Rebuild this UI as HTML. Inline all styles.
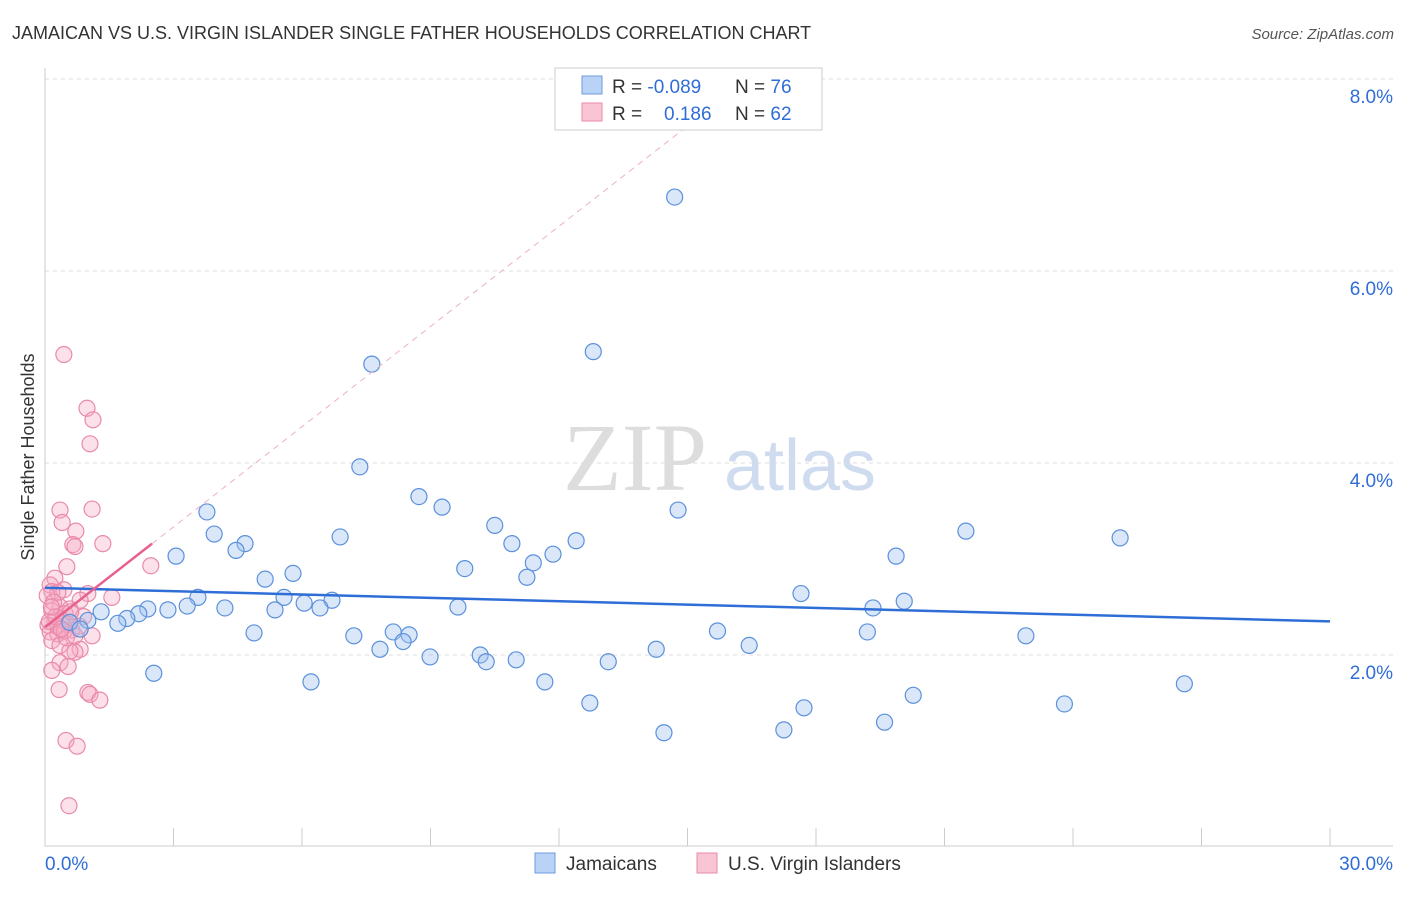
<!DOCTYPE html>
<html><head><meta charset="utf-8"><style>
body{margin:0;background:#fff;font-family:"Liberation Sans",sans-serif}
svg text{font-family:"Liberation Sans",sans-serif}
</style></head><body>
<svg id="c" width="1406" height="892" xmlns="http://www.w3.org/2000/svg">
<text x="12" y="39" font-size="18" fill="#333">JAMAICAN VS U.S. VIRGIN ISLANDER SINGLE FATHER HOUSEHOLDS CORRELATION CHART</text>
<text x="1394" y="39" font-size="15" fill="#555" font-style="italic" text-anchor="end">Source: ZipAtlas.com</text>
<g>
<text x="635" y="490" font-size="96" fill="#ddd" text-anchor="middle" font-family="Liberation Serif" style="font-family:'Liberation Serif',serif">ZIP</text>
<text x="800" y="490" font-size="72" fill="#cfdcf0" text-anchor="middle">atlas</text>
</g>
<g id="grid"></g><g id="axes"></g><g id="pts"></g><g id="trend"></g>
<text transform="translate(34,457) rotate(-90)" font-size="18" fill="#333" text-anchor="middle">Single Father Households</text>
<g>
<rect x="555" y="68" width="267" height="62" fill="#fff" stroke="#ccc"/>
<rect x="582" y="76" width="20" height="18" fill="#b9d3f7" stroke="#6c9be0"/>
<rect x="582" y="103" width="20" height="18" fill="#f9c5d5" stroke="#e88aa8"/>
<text x="612" y="93" font-size="19" fill="#333">R = <tspan fill="#2f6ed6">-0.089</tspan></text>
<text x="735" y="93" font-size="19" fill="#333">N = <tspan fill="#2f6ed6">76</tspan></text>
<text x="612" y="120" font-size="19" fill="#333">R = <tspan fill="#2f6ed6" x="664">0.186</tspan></text>
<text x="735" y="120" font-size="19" fill="#333">N = <tspan fill="#2f6ed6">62</tspan></text>
</g>
<g>
<rect x="535" y="853" width="20" height="20" fill="#b9d3f7" stroke="#6c9be0"/>
<text x="566" y="870" font-size="19" fill="#333">Jamaicans</text>
<rect x="697" y="853" width="20" height="20" fill="#f9c5d5" stroke="#e88aa8"/>
<text x="728" y="870" font-size="19" fill="#333">U.S. Virgin Islanders</text>
</g>
</svg>
<script>
const yTicks=[2,4,6,8];
const xTickLabels=["0.0%","30.0%"];
const blueX=[14.7,12.8,7.63,7.35,8.73,9.27,3.78,14.78,10.5,21.5,25.1,3.95,6.89,12.4,10.9,4.67,4.46,3.06,11.86,19.87,11.4,9.8,5.79,5.14,11.25,17.65,3.57,5.58,20.06,6.7,6.05,19.33,9.64,3.32,4.2,6.42,5.37,2.4,2.87,2.19,1.31,1.91,1.7,1.0,0.58,0.82,4.88,8.13,15.7,19.2,7.21,8.5,22.9,8.36,16.44,7.82,14.27,10.16,8.99,10.3,11.0,13.15,2.54,6.21,11.67,26.6,20.27,12.72,17.72,23.8,19.6,14.45,17.25];
const blueY=[6.77,5.16,5.03,3.96,3.65,3.54,3.49,3.51,3.35,3.29,3.22,3.26,3.23,3.19,3.16,3.16,3.09,3.03,3.05,3.03,2.96,2.9,2.85,2.79,2.81,2.64,2.6,2.6,2.56,2.57,2.54,2.49,2.5,2.51,2.49,2.49,2.47,2.48,2.47,2.43,2.45,2.38,2.33,2.36,2.34,2.27,2.23,2.24,2.25,2.24,2.2,2.21,2.2,2.14,2.1,2.06,2.06,2.0,1.98,1.93,1.95,1.93,1.81,1.72,1.72,1.7,1.58,1.5,1.45,1.49,1.3,1.19,1.22];
const pinkX=[0.44,0.98,1.12,1.05,0.35,1.1,0.4,0.72,0.65,0.7,1.35,2.47,0.51,0.23,0.12,0.44,0.16,0.3,0.05,1.0,1.56,0.82,0.35,0.58,0.16,0.47,0.23,0.07,0.35,0.63,0.12,0.3,0.4,0.54,1.1,0.16,0.35,0.82,0.7,0.58,0.35,0.54,0.16,0.33,1.0,1.05,1.28,0.49,0.75,0.56,0.2,0.9,0.3,0.6,0.1,0.45,0.8,0.25,0.5,0.15,0.7,0.38];
const pinkY=[5.13,4.57,4.45,4.2,3.51,3.52,3.38,3.29,3.15,3.13,3.16,2.93,2.92,2.8,2.73,2.68,2.66,2.65,2.62,2.64,2.6,2.57,2.5,2.48,2.46,2.43,2.36,2.31,2.28,2.26,2.24,2.22,2.36,2.32,2.2,2.15,2.1,2.06,2.03,2.04,1.92,1.88,1.84,1.64,1.61,1.59,1.53,1.11,1.05,0.43,2.55,2.4,2.3,2.45,2.35,2.25,2.3,2.4,2.18,2.5,2.2,2.27];
const blueTrend=[2.70,2.35];
const pinkTrend=[2.29,0.348];
const NS="http://www.w3.org/2000/svg";
const X=v=>45+v*1285/30, Y=v=>847-v*96;
function mk(p,t,a){const e=document.createElementNS(NS,t);for(const k in a)e.setAttribute(k,a[k]);document.getElementById(p).appendChild(e);return e;}
yTicks.forEach(t=>{
 const l=mk('grid','line',{x1:45,x2:1393,y1:Y(t),y2:Y(t),stroke:'#ddd','stroke-dasharray':'4,4'});
 
 
 const tx=mk('grid','text',{x:1393,y:Y(t)+24,'font-size':19,fill:'#2f6ed6','text-anchor':'end'});tx.textContent=t.toFixed(1)+'%';
 
 
});
const ax=mk('axes','path',{d:'M45,68V846H1393',stroke:'#ccc',fill:'none'});


for(let i=1;i<=10;i++){const t=mk('axes','line',{x1:X(i*3),x2:X(i*3),y1:828,y2:846,stroke:'#ccc'});
 
 }
[[0,'start',45],[30,'end',1393]].forEach((d,i)=>{const t=mk('axes','text',{x:d[2],y:870,'font-size':19,fill:'#2f6ed6','text-anchor':d[1]});t.textContent=xTickLabels[i];
 
 });
pinkX.forEach((x,i)=>{const c=mk('pts','circle',{cx:X(x),cy:Y(pinkY[i]),r:8,fill:'rgba(246,170,195,0.35)',stroke:'#e98aa9','stroke-width':1.2});
 
 });
blueX.forEach((x,i)=>{const c=mk('pts','circle',{cx:X(x),cy:Y(blueY[i]),r:8,fill:'rgba(160,196,240,0.4)',stroke:'#5b90dc','stroke-width':1.2});
 
 });
const bt=mk('trend','line',{x1:X(0),y1:Y(blueTrend[0]),x2:X(30),y2:Y(blueTrend[1]),stroke:'#2f6ed6','stroke-width':2.5});


const pd=mk('trend','line',{x1:X(2.5),y1:Y(pinkTrend[0]+pinkTrend[1]*2.5),x2:X(16.2),y2:Y(pinkTrend[0]+pinkTrend[1]*16.2),stroke:'#eeb0c4','stroke-width':1,'stroke-dasharray':'6,5'});


const pt=mk('trend','line',{x1:X(0),y1:Y(pinkTrend[0]),x2:X(2.5),y2:Y(pinkTrend[0]+pinkTrend[1]*2.5),stroke:'#e8608e','stroke-width':2.5});


</script>
</body></html>
